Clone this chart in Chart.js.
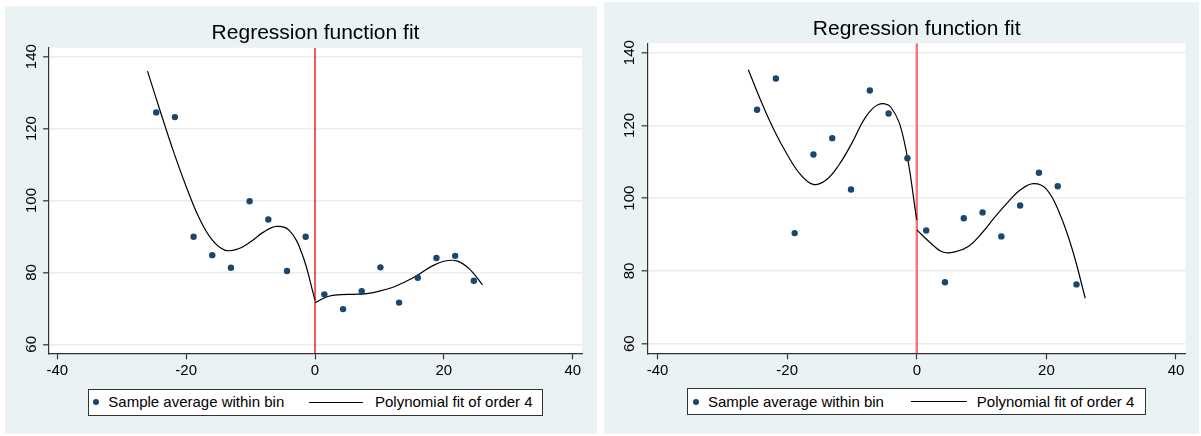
<!DOCTYPE html>
<html><head><meta charset="utf-8">
<script src="https://cdn.jsdelivr.net/npm/chart.js@4.4.1/dist/chart.umd.min.js"></script>
<style>
html,body{margin:0;padding:0;background:#fff;width:1201px;height:436px;overflow:hidden;font-family:"Liberation Sans",Arial,sans-serif;}
.panel{position:absolute;background:#EAF2F3;}
.panel canvas{position:absolute;left:0;top:0;}
.legend{position:absolute;height:25px;border:1px solid #333;background:#fff;font-size:15px;color:#000;}
.legend .dot{position:absolute;width:6px;height:6px;border-radius:50%;background:#1A476F;top:9.3px;}
.legend .ln{position:absolute;height:0;border-top:1.2px solid #000;top:12px;}
.legend .lab{position:absolute;top:3.3px;line-height:18px;white-space:nowrap;}
</style></head><body>
<div class="panel" style="left:5px;top:6px;width:592px;height:428px">
  <canvas id="c1" width="592" height="428"></canvas>
  <div class="legend" id="l1" style="left:83px;top:383px;width:453px"></div>
</div>
<div class="panel" style="left:604px;top:2px;width:595px;height:432px">
  <canvas id="c2" width="595" height="432"></canvas>
  <div class="legend" id="l2" style="left:83.4px;top:386.3px;width:457px"></div>
</div>
<script>
// ---- data ----
const titleText = 'Regression function fit';
const seriesNames = ['Sample average within bin', 'Polynomial fit of order 4'];
const xTicks = [-40, -20, 0, 20, 40];
const yTicks = [60, 80, 100, 120, 140];
const cutoff = 0;

const binX = [-24.65,-21.75,-18.85,-15.95,-13.05,-10.15,-7.25,-4.35,-1.45,1.45,4.35,7.25,10.15,13.05,15.95,18.85,21.75,24.65];
const leftMeans  = [124.5,123.2,89.9,84.8,81.3,99.8,94.7,80.4,89.9,73.9,69.8,74.8,81.4,71.6,78.5,84.0,84.6,77.7];
const rightMeans = [124.3,132.9,90.4,112.0,116.5,102.4,129.6,123.3,111.0,91.1,76.9,94.5,96.1,89.5,98.0,107.0,103.3,76.3];

const fitXNeg = [-26,-24,-22,-20,-18,-16,-14,-12,-10,-8,-6,-4,-2,0];
const fitXPos = [0,2,4,6,8,10,12,14,16,18,20,22,24,26];
const leftFitNeg  = [136.0,124.7,113.8,103.9,95.2,89.1,86.2,86.5,88.5,91.2,92.8,91.7,85.1,72.3];
const leftFitPos  = [71.6,73.3,73.8,73.9,74.1,74.8,75.8,77.4,79.3,81.6,83.1,83.2,80.9,76.5];
const rightFitNeg = [135.3,126.5,118.6,112.0,106.6,103.8,105.0,109.2,115.2,122.0,125.7,125.0,116.1,94.0];
const rightFitPos = [91.3,87.9,85.2,85.3,86.8,90.3,94.7,98.8,102.3,104.0,102.5,96.0,85.9,72.5];

// ---- drawing ----
const FONT = '"Liberation Sans", Arial, sans-serif';
const toPts = (xs, ys) => xs.map((x, i) => ({x: x, y: ys[i]}));

const plotBg = {
  id: 'plotBg',
  beforeDraw(chart) {
    const a = chart.chartArea, ctx = chart.ctx;
    ctx.save(); ctx.fillStyle = '#ffffff';
    ctx.fillRect(a.left, a.top, a.right - a.left, a.bottom - a.top);
    ctx.restore();
  }
};

function makeChart(id, o) {
  const fitStyle = {showLine: true, borderColor: '#000', borderWidth: 1.2, pointRadius: 0, tension: 0.4, fill: false};
  return new Chart(document.getElementById(id), {
    type: 'scatter',
    data: {
      datasets: [
        {label: seriesNames[0], data: toPts(binX, o.means), backgroundColor: '#1A476F', borderWidth: 0, pointRadius: 3.2, pointHoverRadius: 3.2},
        Object.assign({label: seriesNames[1], data: toPts(fitXNeg, o.fitNeg)}, fitStyle),
        Object.assign({label: seriesNames[1], data: toPts(fitXPos, o.fitPos)}, fitStyle),
        {label: 'cutoff', data: [{x: cutoff, y: o.yMin}, {x: cutoff, y: o.yMax}], showLine: true, borderColor: o.vColor, borderWidth: o.vWidth, pointRadius: 0, fill: false}
      ]
    },
    options: {
      responsive: false, animation: false, devicePixelRatio: 1,
      layout: {padding: {left: 0, top: 0, right: o.padRight, bottom: 50.7}},
      plugins: {
        legend: {display: false}, tooltip: {enabled: false},
        title: {display: true, text: titleText, fullSize: false, color: '#000',
                font: {family: FONT, size: 21, weight: 'normal'}, padding: {top: o.titleTop, bottom: o.titleBottom}}
      },
      scales: {
        x: {
          type: 'linear', position: 'bottom', min: o.xMin, max: o.xMax,
          afterBuildTicks: s => { s.ticks = xTicks.map(v => ({value: v})); },
          afterFit: s => { s.height = 30; },
          grid: {drawOnChartArea: false, drawTicks: true, tickLength: 6, tickColor: '#333', tickWidth: 1.2},
          border: {display: true, color: '#333', width: 1.2},
          ticks: {color: '#000', font: {family: FONT, size: 15}, padding: 3, maxRotation: 0, autoSkip: false, callback: v => String(v)}
        },
        y: {
          type: 'linear', position: 'left', min: o.yMin, max: o.yMax,
          afterBuildTicks: s => { s.ticks = yTicks.map(v => ({value: v})); },
          afterFit: s => { s.width = o.yWidth; },
          grid: {color: '#E6EEF0', lineWidth: 1.6, drawTicks: true, tickLength: 6, tickColor: '#333', tickWidth: 1.2},
          border: {display: true, color: '#333', width: 1.2},
          ticks: {color: '#000', font: {family: FONT, size: 15}, minRotation: 90, maxRotation: 90, crossAlign: 'center', padding: -1, autoSkip: false, callback: v => String(v)}
        }
      }
    },
    plugins: [plotBg]
  });
}

makeChart('c1', {means: leftMeans, fitNeg: leftFitNeg, fitPos: leftFitPos,
  xMin: -41.29, xMax: 41.44, yMin: 57.5, yMax: 142.5, vColor: '#F00000', vWidth: 1.3,
  padRight: 15, yWidth: 44, titleTop: 14.7, titleBottom: 1.8});
makeChart('c2', {means: rightMeans, fitNeg: rightFitNeg, fitPos: rightFitPos,
  xMin: -41.53, xMax: 41.5, yMin: 57.36, yMax: 142.58, vColor: '#F27474', vWidth: 2.4,
  padRight: 13.3, yWidth: 43.7, titleTop: 14.7, titleBottom: 1.4});

function buildLegend(id, pos) {
  const el = document.getElementById(id);
  el.innerHTML =
    '<span class="dot" style="left:' + pos.dot + 'px"></span>' +
    '<span class="lab" style="left:' + pos.t1 + 'px">' + seriesNames[0] + '</span>' +
    '<span class="ln" style="left:' + pos.l0 + 'px;width:' + pos.lw + 'px"></span>' +
    '<span class="lab" style="left:' + pos.t2 + 'px">' + seriesNames[1] + '</span>';
}
buildLegend('l1', {dot: 3.7, t1: 19.3, l0: 220.3, lw: 54, t2: 286});
buildLegend('l2', {dot: 4.4, t1: 19.6, l0: 222.8, lw: 55.6, t2: 288.4});
</script>
</body></html>
